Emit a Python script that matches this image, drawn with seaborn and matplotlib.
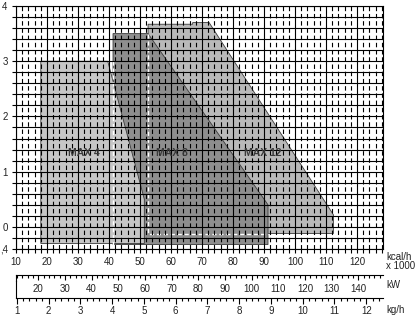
import matplotlib
matplotlib.use("Agg")
import matplotlib.pyplot as plt
from matplotlib.ticker import MultipleLocator
import numpy as np
import pandas as pd
import seaborn as sns

sns.set_theme(style="white")
plt.rcParams['font.family'] = ['Liberation Sans', 'DejaVu Sans']

# ---- data ----
kcal_ticks = [10, 20, 30, 40, 50, 60, 70, 80, 90, 100, 110, 120]
y_ticks = [-0.4, 0, 1, 2, 3, 4]
y_labels = [',4', '0', '1', '2', '3', '4']
kw_ticks = [20, 30, 40, 50, 60, 70, 80, 90, 100, 110, 120, 130, 140]
kg_ticks = [1, 2, 3, 4, 5, 6, 7, 8, 9, 10, 11, 12]

max4_x = [18, 39.6, 51.4, 51.4, 18]
max4_y = [3.0, 3.0, 0.5, -0.3, -0.3]
max8_x = [41.3, 52.6, 91.3, 91.3, 41.3]
max8_y = [3.5, 3.5, 0.4, -0.32, -0.32]
max12_x = [52.6, 67.0, 67.0, 72.3, 112.4, 112.4, 52.6]
max12_y = [3.67, 3.67, 3.70, 3.70, 0.22, -0.12, -0.12]

model_names = ['MAX 4', 'MAX 8', 'MAX 12']
name_x = [32.0, 60.3, 89.5]
name_y = [1.33, 1.33, 1.33]

KW_PER_KCAL = 1 / 0.86
KG_PER_KCAL = 1 / 10.25
XMIN, XMAX = 10, 128.4

W, H = 416, 317
fig = plt.figure(figsize=(W / 100, H / 100), dpi=100)
fig.patch.set_facecolor('white')

def px_rect(left, top, right, bottom):
    return [left / W, 1 - bottom / H, (right - left) / W, (bottom - top) / H]

ax = fig.add_axes(px_rect(16, 6, 383, 249))
ax.set_facecolor('white')

# fills
for xs, ys, col in [(max12_x, max12_y, '#b9b9b9'),
                    (max8_x, max8_y, '#8e8e8e'),
                    (max4_x, max4_y, '#c6c6c6')]:
    ax.fill(xs, ys, facecolor=col, edgecolor='#3a3a3a', linewidth=0.6, zorder=1)

# white dashed hidden outlines
seg8 = pd.DataFrame({'x': [max8_x[0], max8_x[0]], 'y': [max4_y[0], max8_y[-1]]})
seg12 = pd.DataFrame({'x': [max12_x[0], max12_x[0], max8_x[2]],
                      'y': [max8_y[0], max12_y[-1], max12_y[-1]]})
for seg in (seg8, seg12):
    ax.plot(seg['x'], seg['y'], color='white', lw=1.0, ls=(0, (3, 2)), zorder=1.5)

ax.set_xlim(XMIN, XMAX)
ax.set_ylim(-0.4, 4.0)
ax.set_xticks(kcal_ticks)
ax.set_xticklabels([str(v) for v in kcal_ticks], fontsize=7)
ax.xaxis.set_minor_locator(MultipleLocator(2))
ax.set_yticks(y_ticks)
ax.set_yticklabels(y_labels, fontsize=7)
ax.yaxis.set_minor_locator(MultipleLocator(0.2))

ax.set_axisbelow(False)
ax.grid(which='major', axis='x', color='black', lw=0.8, ls='-', zorder=2)
ax.grid(which='minor', axis='x', color='black', lw=0.8, ls=(0, (4, 2.5)), zorder=2)
ax.grid(which='both', axis='y', color='black', lw=0.8, ls='-', zorder=2)

ax.tick_params(axis='both', which='both', direction='out', length=3, width=0.8,
               color='black', labelcolor='#222222', bottom=True, left=True)
ax.tick_params(axis='x', which='major', pad=3)
ax.tick_params(axis='y', which='major', pad=3)
for s in ax.spines.values():
    s.set_color('black')
    s.set_linewidth(0.8)

for n, xx, yy in zip(model_names, name_x, name_y):
    ax.text(xx, yy, n, ha='center', va='center', fontsize=7.5, fontweight='bold',
            color='#3a3a3a', zorder=4)

# kW scale
ax_kw = fig.add_axes(px_rect(16, 275, 383, 281))
ax_kw.set_xlim(XMIN * KW_PER_KCAL, XMAX * KW_PER_KCAL)
ax_kw.set_ylim(0, 1)
ax_kw.set_facecolor('none')
ax_kw.set_xticks(kw_ticks)
ax_kw.set_xticklabels([str(v) for v in kw_ticks], fontsize=7)
ax_kw.xaxis.set_minor_locator(MultipleLocator(2))
ax_kw.set_yticks([])
ax_kw.tick_params(axis='x', which='both', top=True, bottom=False, labeltop=False,
                  labelbottom=True, direction='in', width=0.8, color='black',
                  labelcolor='#222222')
ax_kw.tick_params(axis='x', which='major', length=3.5, pad=2)
ax_kw.tick_params(axis='x', which='minor', length=2.2)
for k, s in ax_kw.spines.items():
    s.set_visible(k in ('top', 'left'))
    s.set_color('black')
    s.set_linewidth(0.8)

# kg/h scale
ax_kg = fig.add_axes(px_rect(16, 281, 383, 298))
ax_kg.set_xlim(XMIN * KG_PER_KCAL, XMAX * KG_PER_KCAL)
ax_kg.set_ylim(0, 1)
ax_kg.set_facecolor('none')
ax_kg.set_xticks(kg_ticks)
ax_kg.set_xticklabels([str(v) for v in kg_ticks], fontsize=7)
ax_kg.xaxis.set_minor_locator(MultipleLocator(0.2))
ax_kg.set_yticks([])
ax_kg.tick_params(axis='x', which='both', bottom=True, direction='out', width=0.8,
                  color='black', labelcolor='#222222')
ax_kg.tick_params(axis='x', which='major', length=4, pad=1.5)
ax_kg.tick_params(axis='x', which='minor', length=2.5)
for k, s in ax_kg.spines.items():
    s.set_visible(k in ('bottom', 'left'))
    s.set_color('black')
    s.set_linewidth(0.8)

# unit labels
fig.text(386 / W, 1 - 257 / H, 'kcal/h', fontsize=7, va='center', ha='left', color='#222222')
fig.text(386 / W, 1 - 266 / H, 'x 1000', fontsize=7, va='center', ha='left', color='#222222')
fig.text(386 / W, 1 - 285 / H, 'kW', fontsize=7, va='center', ha='left', color='#222222')
fig.text(386 / W, 1 - 310 / H, 'kg/h', fontsize=7, va='center', ha='left', color='#222222')

fig.savefig('out.png', dpi=100, facecolor='white')
